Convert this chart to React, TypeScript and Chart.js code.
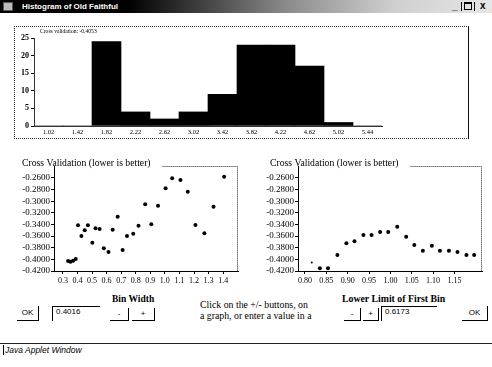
import React, { useEffect, useRef } from "react";
import { Chart, registerables } from "chart.js";

Chart.register(...registerables);

// ---------- data ----------
const windowTitle = "Histogram of Old Faithful";

const histLabels = ["1.02", "1.42", "1.82", "2.22", "2.62", "3.02", "3.42", "3.82", "4.22", "4.62", "5.02", "5.44"];
const histCounts = [0, 0, 24, 4, 2, 4, 9, 23, 23, 17, 1, 0];
const histYTicks = [0, 5, 10, 15, 20, 25];
const crossValidationText = "Cross validation: -0.4053";

const scatterTitle = "Cross Validation (lower is better)";
const cvTicks = [-0.26, -0.28, -0.3, -0.32, -0.34, -0.36, -0.38, -0.4, -0.42];

const binWidths = [
  0.336, 0.352, 0.37, 0.388, 0.404, 0.427, 0.45, 0.472, 0.502, 0.524,
  0.552, 0.581, 0.613, 0.642, 0.676, 0.71, 0.74, 0.783, 0.819, 0.865,
  0.907, 0.953, 1.005, 1.05, 1.107, 1.157, 1.21, 1.271, 1.334, 1.407,
];
const binWidthCV = [
  -0.4028, -0.404, -0.4022, -0.3993, -0.3414, -0.3598, -0.35, -0.3414, -0.3713, -0.3465,
  -0.3477, -0.3809, -0.3873, -0.3489, -0.3266, -0.3838, -0.3598, -0.3558, -0.342, -0.3052,
  -0.3396, -0.3076, -0.2777, -0.2605, -0.2634, -0.2836, -0.3408, -0.3551, -0.3094, -0.2578,
];
const binWidthTicks = [0.3, 0.4, 0.5, 0.6, 0.7, 0.8, 0.9, 1.0, 1.1, 1.2, 1.3, 1.4];

const lowerLimits = [
  0.816, 0.835, 0.854, 0.876, 0.897, 0.916, 0.937, 0.956, 0.976, 0.995,
  1.016, 1.037, 1.056, 1.076, 1.097, 1.116, 1.137, 1.157, 1.178, 1.196,
];
const lowerLimitCV = [
  -0.4053, -0.4153, -0.4153, -0.3924, -0.3723, -0.3689, -0.358, -0.358, -0.3529, -0.3529,
  -0.3438, -0.361, -0.3752, -0.385, -0.3764, -0.385, -0.385, -0.3873, -0.3924, -0.3924,
];
const lowerLimitTicks = [0.8, 0.85, 0.9, 0.95, 1.0, 1.05, 1.1, 1.15];
const currentLowerLimitIndex = 0;

const binWidthLabel = "Bin Width";
const lowerLimitLabel = "Lower Limit of First Bin";
const binWidthValue = "0.4016";
const lowerLimitValue = "0.6173";
const helpLines = ["Click on the +/- buttons, on", "a graph, or enter a value in a"];
const statusText = "Java Applet Window";

const SERIF = '"Liberation Serif", "Times New Roman", serif';
const SANS = '"Liberation Sans", Arial, sans-serif';

// ---------- plugins ----------
const histTextPlugin = {
  id: "histText",
  afterDraw(chart: any, _args: any, opts: any) {
    const ctx = chart.ctx;
    ctx.save();
    ctx.font = `5.6px ${SERIF}`;
    ctx.fillStyle = "#000";
    ctx.textBaseline = "middle";
    ctx.fillText(opts.text, opts.x, opts.y);
    ctx.restore();
  },
};

const scatterFramePlugin = {
  id: "scatterFrame",
  afterDraw(chart: any, _args: any, opts: any) {
    const ctx = chart.ctx;
    const a = chart.chartArea;
    ctx.save();
    ctx.font = `9.7px ${SERIF}`;
    ctx.fillStyle = "#000";
    ctx.textBaseline = "middle";
    ctx.fillText(opts.title, opts.titleX, opts.titleY);
    const w = ctx.measureText(opts.title).width;
    ctx.strokeStyle = "#222";
    ctx.lineWidth = 1;
    ctx.setLineDash([1, 1]);
    ctx.beginPath();
    ctx.moveTo(opts.titleX + w + 12, Math.round(a.top) + 0.5);
    ctx.lineTo(Math.round(a.right) - 0.5, Math.round(a.top) + 0.5);
    ctx.lineTo(Math.round(a.right) - 0.5, a.bottom);
    ctx.stroke();
    ctx.restore();
  },
};

// ---------- chart configs ----------
function histConfig(): any {
  return {
    type: "bar",
    data: {
      labels: histLabels,
      datasets: [
        {
          data: histCounts,
          backgroundColor: "#000",
          borderWidth: 0,
          barPercentage: 1,
          categoryPercentage: 1,
        },
      ],
    },
    options: {
      responsive: false,
      animation: false,
      devicePixelRatio: 1,
      layout: { padding: { left: 0, top: 12, right: 86, bottom: 0 } },
      plugins: {
        legend: { display: false },
        tooltip: { enabled: false },
        histText: { text: crossValidationText, x: 26, y: 6 },
      },
      scales: {
        x: {
          offset: true,
          grid: { display: false, drawTicks: false },
          border: { display: true, color: "#333", dash: [1, 1] },
          ticks: {
            font: { family: SERIF, size: 6.5 },
            color: "#000",
            padding: 2,
            maxRotation: 0,
            autoSkip: false,
          },
          afterFit: (s: any) => {
            s.height = 13;
          },
        },
        y: {
          min: 0,
          max: 25,
          afterBuildTicks: (s: any) => {
            s.ticks = histYTicks.map((v) => ({ value: v }));
          },
          grid: { drawOnChartArea: false, drawTicks: true, tickLength: 3, tickColor: "#000" },
          border: { display: true, color: "#333", dash: [1, 1] },
          ticks: {
            font: { family: SERIF, size: 8, weight: "bold" },
            color: "#000",
            padding: 2,
            autoSkip: false,
          },
          afterFit: (s: any) => {
            s.width = 20;
          },
        },
      },
    },
    plugins: [histTextPlugin],
  };
}

function scatterConfig(
  xs: number[],
  ys: number[],
  xTicks: number[],
  xMin: number,
  xMax: number,
  decimals: number,
  smallIndex: number,
  titleX: number
): any {
  return {
    type: "scatter",
    data: {
      datasets: [
        {
          data: xs.map((x, i) => ({ x, y: ys[i] })),
          backgroundColor: "#000",
          borderColor: "#000",
          borderWidth: 0,
          pointStyle: "circle",
          pointRadius: (c: any) => (c.dataIndex === smallIndex ? 1 : 2),
        },
      ],
    },
    options: {
      responsive: false,
      animation: false,
      devicePixelRatio: 1,
      layout: { padding: { left: 0, top: 16, right: 2, bottom: 0 } },
      plugins: {
        legend: { display: false },
        tooltip: { enabled: false },
        scatterFrame: { title: scatterTitle, titleX, titleY: 13 },
      },
      scales: {
        x: {
          type: "linear",
          min: xMin,
          max: xMax,
          afterBuildTicks: (s: any) => {
            s.ticks = xTicks.map((v) => ({ value: v }));
          },
          grid: { drawOnChartArea: false, drawTicks: true, tickLength: 3, tickColor: "#000" },
          border: { display: true, color: "#000" },
          ticks: {
            font: { family: SERIF, size: 8 },
            color: "#000",
            padding: 2,
            maxRotation: 0,
            autoSkip: false,
            callback: (v: any) => Number(v).toFixed(decimals),
          },
          afterFit: (s: any) => {
            s.height = 19;
          },
        },
        y: {
          type: "linear",
          min: -0.42,
          max: -0.2394,
          afterBuildTicks: (s: any) => {
            s.ticks = cvTicks.map((v) => ({ value: v }));
          },
          grid: { drawOnChartArea: false, drawTicks: true, tickLength: 3, tickColor: "#000" },
          border: { display: true, color: "#000" },
          ticks: {
            font: { family: SERIF, size: 9 },
            color: "#000",
            padding: 1,
            autoSkip: false,
            callback: (v: any) => Number(v).toFixed(4),
          },
          afterFit: (s: any) => {
            s.width = 40;
          },
        },
      },
    },
    plugins: [scatterFramePlugin],
  };
}

// ---------- components ----------
function ChartBox(props: { left: number; top: number; width: number; height: number; make: () => any }) {
  const ref = useRef<HTMLCanvasElement>(null);
  useEffect(() => {
    const chart = new Chart(ref.current as HTMLCanvasElement, props.make());
    return () => chart.destroy();
  }, []);
  return (
    <canvas
      ref={ref}
      width={props.width}
      height={props.height}
      style={{ position: "absolute", left: props.left, top: props.top, width: props.width, height: props.height }}
    />
  );
}

function AwtButton(props: { left: number; top: number; width: number; height: number; label: string }) {
  return (
    <div
      style={{
        position: "absolute",
        left: props.left,
        top: props.top,
        width: props.width,
        height: props.height,
        boxSizing: "border-box",
        borderRight: "1px solid #000",
        borderBottom: "1px solid #000",
        font: `8px ${SANS}`,
        color: "#000",
        textAlign: "center",
        lineHeight: `${props.height - 1}px`,
      }}
    >
      {props.label}
    </div>
  );
}

function AwtField(props: { left: number; top: number; width: number; height: number; value: string }) {
  return (
    <div
      style={{
        position: "absolute",
        left: props.left,
        top: props.top,
        width: props.width,
        height: props.height,
        boxSizing: "border-box",
        borderTop: "1px solid #000",
        borderLeft: "1px solid #000",
        font: `8px ${SANS}`,
        color: "#000",
        paddingLeft: 3,
        lineHeight: "10px",
      }}
    >
      {props.value}
    </div>
  );
}

export default function App() {
  const abs = (s: any) => ({ position: "absolute" as const, ...s });
  return (
    <div
      style={{
        position: "absolute",
        left: 0,
        top: 0,
        width: 492,
        height: 367,
        overflow: "hidden",
        background: "#fff",
        fontFamily: SERIF,
      }}
    >
      {/* title bar */}
      <div
        style={abs({
          left: 0,
          top: 0,
          width: 492,
          height: 13,
          background: "linear-gradient(90deg, #000 0%, #000 26%, #8a8a8a 58%, #cfcfcf 80%, #e6e6e6 100%)",
        })}
      >
        <div style={abs({ left: 3, top: 2, width: 10, height: 9, background: "#bbb", border: "1px solid #555", boxSizing: "border-box" })} />
        <span style={abs({ left: 22, top: 1, color: "#fff", font: `bold 8px ${SANS}`, lineHeight: "11px", whiteSpace: "nowrap" })}>
          {windowTitle}
        </span>
        <span style={abs({ left: 452, top: 0, color: "#000", font: `bold 10px ${SANS}`, lineHeight: "12px" })}>_</span>
        <div style={abs({ left: 461, top: 2, width: 1, height: 9, background: "#000" })} />
        <div style={abs({ left: 464, top: 2, width: 8, height: 8, border: "1px solid #000", borderTopWidth: 2, boxSizing: "border-box" })} />
        <div style={abs({ left: 474, top: 2, width: 1, height: 9, background: "#000" })} />
        <span style={abs({ left: 480, top: 0, color: "#000", font: `bold 10px ${SANS}`, lineHeight: "12px" })}>x</span>
      </div>

      {/* histogram panel */}
      <div
        style={abs({
          left: 14,
          top: 26,
          width: 455,
          height: 113,
          boxSizing: "border-box",
          border: "1px dotted #333",
          borderRight: "1px solid #111",
        })}
      />
      <ChartBox left={14} top={26} width={454} height={113} make={histConfig} />

      {/* scatter plots */}
      <ChartBox
        left={14}
        top={150}
        width={228}
        height={140}
        make={() => scatterConfig(binWidths, binWidthCV, binWidthTicks, 0.239, 1.502, 1, -1, 8)}
      />
      <ChartBox
        left={258}
        top={150}
        width={228}
        height={140}
        make={() =>
          scatterConfig(lowerLimits, lowerLimitCV, lowerLimitTicks, 0.7838, 1.2144, 2, currentLowerLimitIndex, 12)
        }
      />

      {/* controls */}
      <div style={abs({ left: 112, top: 294, font: `bold 9.5px ${SERIF}`, lineHeight: "10px", whiteSpace: "nowrap" })}>
        {binWidthLabel}
      </div>
      <div style={abs({ left: 342, top: 294, font: `bold 9.8px ${SERIF}`, lineHeight: "10px", whiteSpace: "nowrap" })}>
        {lowerLimitLabel}
      </div>
      <div style={abs({ left: 200, top: 299, font: `9.8px ${SERIF}`, lineHeight: "11px", whiteSpace: "nowrap" })}>
        {helpLines.map((l, i) => (
          <div key={i}>{l}</div>
        ))}
      </div>

      <AwtButton left={17} top={306} width={22} height={15} label="OK" />
      <AwtField left={52} top={306} width={48} height={15} value={binWidthValue} />
      <AwtButton left={110} top={308} width={19} height={13} label="-" />
      <AwtButton left={132} top={308} width={23} height={13} label="+" />

      <AwtButton left={344} top={308} width={17} height={13} label="-" />
      <AwtButton left={363} top={308} width={16} height={13} label="+" />
      <AwtField left={381} top={306} width={56} height={15} value={lowerLimitValue} />
      <AwtButton left={462} top={306} width={26} height={15} label="OK" />

      {/* status bar */}
      <div style={abs({ left: 0, top: 343, width: 492, height: 1, background: "#222" })} />
      <div style={abs({ left: 3, top: 345, width: 1, height: 10, background: "#000" })} />
      <div style={abs({ left: 5, top: 344, font: `italic 8.5px ${SANS}`, lineHeight: "12px", whiteSpace: "nowrap" })}>
        {statusText}
      </div>
    </div>
  );
}
